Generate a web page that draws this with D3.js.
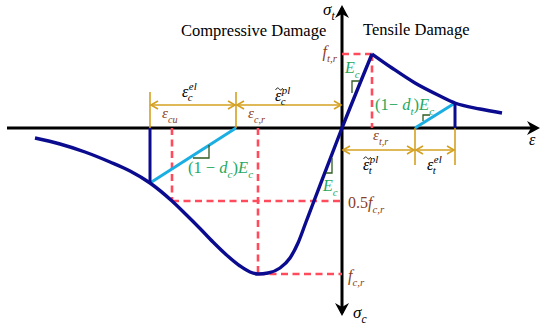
<!DOCTYPE html>
<html><head><meta charset="utf-8">
<script src="https://cdn.jsdelivr.net/npm/d3@7"></script>
<style>
body{margin:0;background:#fff}
svg{display:block}
text{font-family:"Liberation Serif","Times New Roman",serif}
</style>
</head><body>
<svg id="c" width="550" height="328"></svg>
<script>
// ---- data (strain: compression negative, stress: compression negative) ----
const compStrain = [-3.07,-2.82,-2.57,-2.32,-2.12,-1.92,-1.70,-1.56,-1.42,-1.29,-1.16,-1.02,-0.92,-0.84,-0.74,-0.62,-0.52,-0.44,-0.36,-0.28,0,0.30];
const compStress = [-0.20,-0.32,-0.48,-0.68,-0.86,-1.10,-1.46,-1.73,-2.01,-2.28,-2.53,-2.76,-2.88,-2.92,-2.90,-2.80,-2.60,-2.30,-1.88,-1.46,0,1.48];
const tensSoftStrain = [0.30,0.50,0.73,0.98,1.13,1.38,1.60];
const tensSoftStress = [1.48,1.20,0.90,0.64,0.50,0.38,0.30];
const compUnloadStrain = [-1.92,-1.06];
const compUnloadStress = [-1.10,0];
const tensUnloadStrain = [0.73,1.13];
const tensUnloadStress = [0,0.50];
const keyStrain = {epsCu:-1.70, epsCr:-0.84, epsTr:0.30};
const keyStress = {fcr:-2.92, halfFcr:-1.46, ftr:1.48};
const compDims = [[-1.92,-1.06],[-1.06,0]];
const tensDims = [[0,0.73],[0.73,1.13]];

const C = {navy:'#0b0b8f', light:'#1aaee2', red:'#ff4b5c', gold:'#d4a021', green:'#1fa85e', brown:'#8a3e22', mark:'#2f5a22'};

const svg = d3.select('#c');
const x = d3.scaleLinear().domain([-3.35,1.98]).range([7,540]);
const y = d3.scaleLinear().domain([2.46,-3.76]).range([5,316]);

// ---- axes ----
svg.append('line').attr('x1',x(-3.35)).attr('x2',x(1.93)).attr('y1',y(0)).attr('y2',y(0)).attr('stroke','#000').attr('stroke-width',3);
svg.append('line').attr('x1',x(0)).attr('x2',x(0)).attr('y1',y(2.40)).attr('y2',y(-3.70)).attr('stroke','#000').attr('stroke-width',3);
const X0=x(0), Y0=y(0), XE=x(1.98), YT=y(2.46), YB=y(-3.76);
svg.append('path').attr('d',`M${XE},${Y0} L${XE-13},${Y0-7} L${XE-9},${Y0} L${XE-13},${Y0+7} Z`).attr('fill','#000');
svg.append('path').attr('d',`M${X0},${YT} L${X0-7},${YT+13} L${X0},${YT+9} L${X0+7},${YT+13} Z`).attr('fill','#000');
svg.append('path').attr('d',`M${X0},${YB} L${X0-7},${YB-13} L${X0},${YB-9} L${X0+7},${YB-13} Z`).attr('fill','#000');

// ---- red dashed guides ----
const dash = (x1,y1,x2,y2)=>svg.append('line').attr('x1',x(x1)).attr('y1',y(y1)).attr('x2',x(x2)).attr('y2',y(y2))
  .attr('stroke',C.red).attr('stroke-width',2.6).attr('stroke-dasharray','7,4.5');
dash(keyStrain.epsTr,keyStress.ftr,0,keyStress.ftr);
dash(keyStrain.epsTr,keyStress.ftr,keyStrain.epsTr,0);
dash(keyStrain.epsCu,0,keyStrain.epsCu,keyStress.halfFcr);
dash(keyStrain.epsCu,keyStress.halfFcr,0,keyStress.halfFcr);
dash(keyStrain.epsCr,0,keyStrain.epsCr,keyStress.fcr);
dash(keyStrain.epsCr,keyStress.fcr,0,keyStress.fcr);

// ---- gold dimension lines ----
const gold = (x1,y1,x2,y2)=>svg.append('line').attr('x1',x1).attr('y1',y1).attr('x2',x2).attr('y2',y2).attr('stroke',C.gold).attr('stroke-width',1.6);
const dimArrow = (a,b,lev)=>{
  const xa=x(a)+1, xb=x(b)-1, yy=y(lev);
  gold(xa,yy,xb,yy);
  svg.append('path').attr('d',`M${xa+7},${yy-4} L${xa},${yy} L${xa+7},${yy+4}`).attr('fill','none').attr('stroke',C.gold).attr('stroke-width',1.6);
  svg.append('path').attr('d',`M${xb-7},${yy-4} L${xb},${yy} L${xb-7},${yy+4}`).attr('fill','none').attr('stroke',C.gold).attr('stroke-width',1.6);
};
compDims.forEach(d=>dimArrow(d[0],d[1],0.46));
tensDims.forEach(d=>dimArrow(d[0],d[1],-0.44));
[compDims[0][0],compDims[0][1]].forEach(s=>gold(x(s),y(0.72),x(s),y(0)));
[tensDims[1][0],tensDims[1][1]].forEach(s=>gold(x(s),y(0),x(s),y(-0.74)));

// ---- unloading lines ----
const ln = d3.line().x(d=>x(d[0])).y(d=>y(d[1]));
svg.append('path').attr('d',ln(d3.zip(compUnloadStrain,compUnloadStress))).attr('stroke',C.light).attr('stroke-width',3).attr('fill','none');
svg.append('path').attr('d',ln(d3.zip(tensUnloadStrain,tensUnloadStress))).attr('stroke',C.light).attr('stroke-width',3).attr('fill','none');
svg.append('path').attr('d',ln([[compUnloadStrain[0],compUnloadStress[0]],[compUnloadStrain[0],0]])).attr('stroke',C.navy).attr('stroke-width',3).attr('fill','none');
svg.append('path').attr('d',ln([[tensUnloadStrain[1],tensUnloadStress[1]],[tensUnloadStrain[1],0]])).attr('stroke',C.navy).attr('stroke-width',3).attr('fill','none');

// ---- main curves ----
const cv = d3.line().x(d=>x(d[0])).y(d=>y(d[1])).curve(d3.curveMonotoneX);
svg.append('path').attr('d',cv(d3.zip(compStrain,compStress))).attr('stroke',C.navy).attr('stroke-width',3.4).attr('fill','none').attr('stroke-linejoin','round');
svg.append('path').attr('d',cv(d3.zip(tensSoftStrain,tensSoftStress))).attr('stroke',C.navy).attr('stroke-width',3.4).attr('fill','none').attr('stroke-linejoin','round');

// ---- slope marks ----
const mark = pts=>svg.append('path').attr('d','M'+pts.map(p=>p.join(',')).join('L')).attr('fill','none').attr('stroke',C.mark).attr('stroke-width',1.3);
mark([[193,158],[209,158],[209,145]]);
mark([[360,81],[352,81],[352,93]]);
mark([[332,158],[332,173],[326,173]]);
mark([[430,115],[423,115],[423,121]]);

// ---- text helpers ----
function rich(px,py,pieces,{size=16,color='#000',anchor='start'}={}){
  const t=svg.append('text').attr('x',px).attr('y',py).attr('fill',color).attr('font-size',size).attr('text-anchor',anchor);
  let cur=0;
  pieces.forEach(p=>{
    const off = p.s==='sub'? size*0.3 : p.s==='sup'? -size*0.45 : 0;
    t.append('tspan').attr('dy',off-cur).attr('font-size',p.s?size*0.68:size).attr('font-style',p.i?'italic':'normal').text(p.t);
    cur=off;
  });
  return t;
}
function stacked(px,py,base,sub,sup,{size=16,color='#000',tilde=false}={}){
  const b=svg.append('text').attr('x',px).attr('y',py).attr('fill',color).attr('font-size',size).attr('font-style','italic').text(base);
  const w=b.node().getComputedTextLength();
  if(tilde){
    const cx=px+w/2+1, cy=py-12;
    svg.append('path').attr('d',`M${cx-3.5},${cy+1} C${cx-2.5},${cy-1.5} ${cx-1},${cy-1.5} ${cx},${cy} S${cx+2.5},${cy+1.5} ${cx+3.5},${cy-1}`)
      .attr('fill','none').attr('stroke',color).attr('stroke-width',0.9);
  }
  svg.append('text').attr('x',px+w+0.5).attr('y',py-7.5).attr('fill',color).attr('font-size',size*0.68).attr('font-style','italic').text(sup);
  svg.append('text').attr('x',px+w-0.5).attr('y',py+4).attr('fill',color).attr('font-size',size*0.68).attr('font-style','italic').text(sub);
}

// ---- titles ----
svg.append('text').attr('x',181).attr('y',36).attr('font-size',16.5).attr('fill','#000').text('Compressive Damage');
svg.append('text').attr('x',363).attr('y',35).attr('font-size',16.5).attr('fill','#000').text('Tensile Damage');

// axis labels
rich(323,15,[{t:'σ',i:true},{t:'t',i:true,s:'sub'}],{size:17});
rich(353,318,[{t:'σ',i:true},{t:'c',i:true,s:'sub'}],{size:17});
rich(529,145,[{t:'ε',i:true}],{size:16});

// brown key labels
rich(X0-5,57,[{t:'f',i:true},{t:'t,r',i:true,s:'sub'}],{color:C.brown,anchor:'end'});
rich(x(keyStrain.epsTr)+1,140,[{t:'ε',i:true},{t:'t,r',i:true,s:'sub'}],{color:C.brown,size:15});
rich(348,208,[{t:'0.5'},{t:'f',i:true},{t:'c,r',i:true,s:'sub'}],{color:C.brown});
rich(348,281,[{t:'f',i:true},{t:'c,r',i:true,s:'sub'}],{color:C.brown});
rich(162,118,[{t:'ε',i:true},{t:'cu',i:true,s:'sub'}],{color:C.brown,size:15});
rich(248,118,[{t:'ε',i:true},{t:'c,r',i:true,s:'sub'}],{color:C.brown,size:15});

// green labels
rich(345,73,[{t:'E',i:true},{t:'c',i:true,s:'sub'}],{color:C.green});
rich(323,191,[{t:'E',i:true},{t:'c',i:true,s:'sub'}],{color:C.green});
rich(375,110,[{t:'(1− '},{t:'d',i:true},{t:'t',i:true,s:'sub'},{t:')'},{t:'E',i:true},{t:'c',i:true,s:'sub'}],{color:C.green,size:16.5});
rich(188,173,[{t:'(1 − '},{t:'d',i:true},{t:'c',i:true,s:'sub'},{t:')'},{t:'E',i:true},{t:'c',i:true,s:'sub'}],{color:C.green,size:16.5});

// strain decomposition labels
stacked(182,97,'ε','c','el');
stacked(275,101,'ε','c','pl',{tilde:true});
stacked(363,170,'ε','t','pl',{tilde:true});
stacked(427,170,'ε','t','el');
</script>
</body></html>
